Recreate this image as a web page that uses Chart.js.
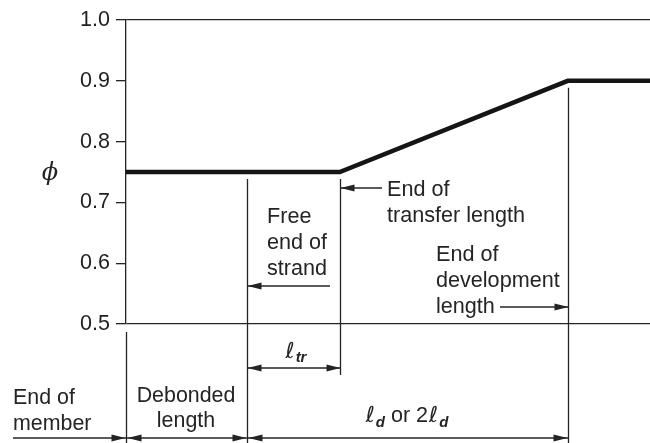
<!DOCTYPE html>
<html>
<head>
<meta charset="utf-8">
<script src="https://cdn.jsdelivr.net/npm/chart.js@4"></script>
<style>
  html, body { margin: 0; padding: 0; background: #fff; }
  #wrap { width: 650px; height: 443px; position: relative; }
</style>
</head>
<body>
<div id="wrap"><canvas id="chart1"></canvas></div>
<script>
// distance along the member (arbitrary units, end of member = 0)
const positions = [0, 2.31, 4.08, 8.43, 10];
// strength reduction factor phi at those positions
const phiValues = [0.75, 0.75, 0.75, 0.9, 0.9];
const yTicks = [0.5, 0.6, 0.7, 0.8, 0.9, 1.0];

const endOfMember = positions[0];
const debondEnd = positions[1];
const transferEnd = positions[2];
const developEnd = positions[3];

const INK = "#242424";
const FONT = "'Liberation Sans', Arial, Helvetica, sans-serif";

function arrowHead(ctx, x, y, dir) {
  // dir: -1 points left, 1 points right
  ctx.beginPath();
  ctx.moveTo(x, y);
  ctx.lineTo(x - dir * 14, y - 3.5);
  ctx.lineTo(x - dir * 14, y + 3.5);
  ctx.closePath();
  ctx.fill();
}

function hLine(ctx, x1, x2, y) {
  ctx.beginPath();
  ctx.moveTo(x1, y);
  ctx.lineTo(x2, y);
  ctx.stroke();
}

function vLine(ctx, x, y1, y2) {
  ctx.beginPath();
  ctx.moveTo(x, y1);
  ctx.lineTo(x, y2);
  ctx.stroke();
}

function lines(ctx, arr, x, y0, step, align) {
  ctx.textAlign = align || "left";
  arr.forEach((t, i) => ctx.fillText(t, x, y0 + i * step));
}

// draws pieces of text one after another, centred on cx
function richText(ctx, parts, cx, baseY) {
  let total = 0;
  parts.forEach((p) => {
    ctx.font = p.font;
    p.w = ctx.measureText(p.t).width + (p.gap || 0);
    total += p.w;
  });
  let x = cx - total / 2;
  ctx.textAlign = "left";
  parts.forEach((p) => {
    ctx.font = p.font;
    ctx.fillText(p.t, x, baseY + (p.dy || 0));
    x += p.w;
  });
}

const notes = {
  id: "notes",
  afterDraw(chart) {
    const ctx = chart.ctx;
    const xs = chart.scales.x;
    const ys = chart.scales.y;
    const px = (v) => Math.round(xs.getPixelForValue(v)) + 0.5;
    const top75 = ys.getPixelForValue(0.75) + 7;
    const top90 = ys.getPixelForValue(0.9) + 7;
    const base = ys.getPixelForValue(0.5);
    const bottom = chart.height;

    ctx.save();
    ctx.strokeStyle = INK;
    ctx.fillStyle = INK;
    ctx.lineWidth = 1.3;

    // vertical reference lines
    vLine(ctx, px(endOfMember), base + 8, bottom);
    vLine(ctx, px(debondEnd), top75, bottom);
    vLine(ctx, px(transferEnd), top75, base + 51);
    vLine(ctx, px(developEnd), top90, bottom);

    // phi label
    ctx.font = "italic 24px 'DejaVu Serif', serif";
    ctx.textAlign = "center";
    ctx.textBaseline = "alphabetic";
    ctx.fillText("\u03d5", 50, 180);

    ctx.font = "21.6px " + FONT;

    // Free end of strand
    lines(ctx, ["Free", "end of", "strand"], 267, 223, 26);
    hLine(ctx, px(debondEnd), 330, 286);
    arrowHead(ctx, px(debondEnd), 286, -1);

    // End of transfer length
    lines(ctx, ["End of", "transfer length"], 387, 196, 26);
    hLine(ctx, px(transferEnd), 382, 188);
    arrowHead(ctx, px(transferEnd), 188, -1);

    // End of development length
    lines(ctx, ["End of", "development", "length"], 436, 261, 26);
    hLine(ctx, 500, px(developEnd), 307);
    arrowHead(ctx, px(developEnd), 307, 1);

    // transfer length dimension
    const yTr = base + 44;
    hLine(ctx, px(debondEnd), px(transferEnd), yTr);
    arrowHead(ctx, px(debondEnd), yTr, -1);
    arrowHead(ctx, px(transferEnd), yTr, 1);
    richText(ctx, [
      { t: "\u2113", font: "italic 22px 'DejaVu Sans', sans-serif", gap: 1 },
      { t: "tr", font: "bold italic 15px " + FONT, dy: 4 },
    ], (px(debondEnd) + px(transferEnd)) / 2 + 2, yTr - 10);

    // bottom dimension row
    const yDim = 438;
    ctx.font = "21.4px " + FONT;
    lines(ctx, ["End of", "member"], 13, 404, 26);
    hLine(ctx, 13, px(endOfMember), yDim);
    arrowHead(ctx, px(endOfMember) - 1, yDim, 1);

    lines(ctx, ["Debonded", "length"], 186, 402, 25, "center");
    hLine(ctx, px(endOfMember), px(debondEnd), yDim);
    arrowHead(ctx, px(endOfMember) + 1, yDim, -1);
    arrowHead(ctx, px(debondEnd) - 1, yDim, 1);

    hLine(ctx, px(debondEnd), px(developEnd), yDim);
    arrowHead(ctx, px(debondEnd) + 1, yDim, -1);
    arrowHead(ctx, px(developEnd) - 1, yDim, 1);
    richText(ctx, [
      { t: "\u2113", font: "italic 22px 'DejaVu Sans', sans-serif", gap: 1 },
      { t: "d", font: "bold italic 15px " + FONT, dy: 5 },
      { t: " or 2", font: "21.6px " + FONT, gap: 1 },
      { t: "\u2113", font: "italic 22px 'DejaVu Sans', sans-serif", gap: 1 },
      { t: "d", font: "bold italic 15px " + FONT, dy: 5 },
    ], 407, 422);

    ctx.restore();
  },
};

const ctx1 = document.getElementById("chart1").getContext("2d");
const chart1 = new Chart(ctx1, {
  type: "line",
  data: {
    datasets: [
      {
        data: positions.map((x, i) => ({ x: x, y: phiValues[i] })),
        borderColor: "#151515",
        borderWidth: 4.5,
        pointRadius: 0,
        tension: 0,
        borderJoinStyle: "miter",
      },
    ],
  },
  options: {
    responsive: true,
    maintainAspectRatio: false,
    animation: false,
    layout: { padding: { top: 20, bottom: 119, left: 0, right: 0 } },
    plugins: {
      legend: { display: false },
      tooltip: { enabled: false },
    },
    scales: {
      x: {
        type: "linear",
        min: positions[0],
        max: positions[positions.length - 1],
        display: false,
      },
      y: {
        min: yTicks[0],
        max: yTicks[yTicks.length - 1],
        afterBuildTicks: (scale) => {
          scale.ticks = yTicks.map((v) => ({ value: v }));
        },
        afterFit: (scale) => {
          scale.width = 126;
        },
        ticks: {
          color: "#1e1e1e",
          padding: 6,
          font: { family: FONT, size: 21.5 },
          callback: (v) => v.toFixed(1),
        },
        grid: {
          drawTicks: true,
          tickLength: 10,
          lineWidth: 1.3,
          tickColor: INK,
          color: (c) =>
            c.tick && (c.tick.value === 0.5 || c.tick.value === 1.0)
              ? INK
              : "rgba(0,0,0,0)",
        },
        border: { display: true, color: INK, width: 1.3 },
      },
    },
  },
  plugins: [notes],
});
</script>
</body>
</html>
